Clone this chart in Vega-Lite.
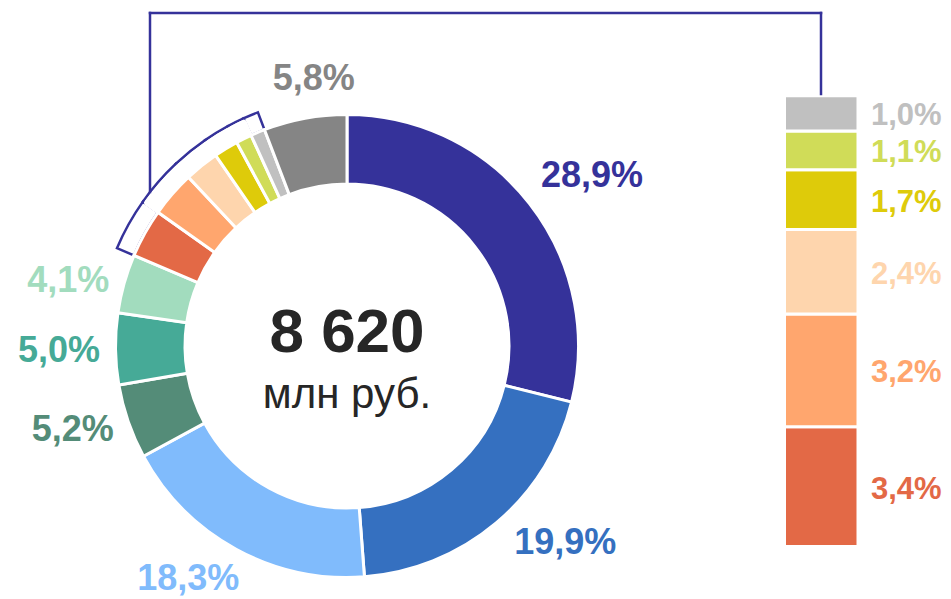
{
  "$schema": "https://vega.github.io/schema/vega-lite/v6.json",
  "width": 951,
  "height": 599,
  "autosize": "none",
  "padding": 0,
  "background": "white",
  "config": {
    "view": {"stroke": null},
    "locale": {"number": {"decimal": ",", "thousands": " ", "grouping": [3], "currency": ["", ""]}},
    "text": {"font": "Liberation Sans"}
  },
  "datasets": {
    "shares": [
      {"segment": "S01", "share": 0.289, "rank": 1, "group": "main"},
      {"segment": "S02", "share": 0.199, "rank": 2, "group": "main"},
      {"segment": "S03", "share": 0.183, "rank": 3, "group": "main"},
      {"segment": "S04", "share": 0.052, "rank": 4, "group": "main"},
      {"segment": "S05", "share": 0.050, "rank": 5, "group": "main"},
      {"segment": "S06", "share": 0.041, "rank": 6, "group": "main"},
      {"segment": "S07", "share": 0.034, "rank": 7, "group": "detail"},
      {"segment": "S08", "share": 0.032, "rank": 8, "group": "detail"},
      {"segment": "S09", "share": 0.024, "rank": 9, "group": "detail"},
      {"segment": "S10", "share": 0.017, "rank": 10, "group": "detail"},
      {"segment": "S11", "share": 0.011, "rank": 11, "group": "detail"},
      {"segment": "S12", "share": 0.010, "rank": 12, "group": "detail"},
      {"segment": "S13", "share": 0.058, "rank": 13, "group": "main"}
    ],
    "total": [{"total": 8620, "unit": "млн руб."}]
  },
  "data": {"name": "shares"},
  "encoding": {
    "theta": {"field": "share", "type": "quantitative", "stack": true},
    "order": {"field": "rank", "type": "quantitative", "sort": "ascending"}
  },
  "layer": [
    {
      "mark": {"type": "arc", "innerRadius": 231.5, "outerRadius": 250, "fill": "transparent", "stroke": "#35329A", "strokeWidth": 2.5, "strokeJoin": "miter", "x": 347, "y": 346},
      "encoding": {
        "opacity": {"condition": {"test": "datum.group === 'detail'", "value": 1}, "value": 0}
      }
    },
    {
      "mark": {"type": "arc", "innerRadius": 233, "outerRadius": 247, "fill": "white", "stroke": "white", "strokeWidth": 3.5, "strokeJoin": "bevel", "x": 347, "y": 346},
      "encoding": {
        "opacity": {"condition": {"test": "datum.group === 'detail' && datum.rank > 7 && datum.rank < 12", "value": 1}, "value": 0}
      }
    },
    {
      "mark": {"type": "arc", "innerRadius": 162, "outerRadius": 231.5, "stroke": "white", "strokeWidth": 3, "x": 347, "y": 346},
      "encoding": {
        "color": {
          "field": "segment", "type": "nominal", "legend": null,
          "scale": {
            "domain": ["S01", "S02", "S03", "S04", "S05", "S06", "S07", "S08", "S09", "S10", "S11", "S12", "S13"],
            "range": ["#35329A", "#3570C0", "#80BBFC", "#548C78", "#46AA97", "#A2DCBE", "#E36946", "#FFA66E", "#FED5AD", "#DECB0A", "#D0DC58", "#C0C0C0", "#858585"]
          }
        }
      }
    },
    {
      "mark": {"type": "text", "radius": 250, "x": 347, "y": 346, "fontSize": 36, "fontWeight": "bold", "align": "center", "baseline": "bottom", "dx": 12, "dy": -2},
      "encoding": {
        "color": {"field": "segment", "type": "nominal", "legend": null},
        "text": {"field": "share", "type": "quantitative", "format": ".1%"},
        "opacity": {"condition": {"test": "datum.group === 'main' && ((datum.share_start + datum.share_end) * 180 >= 345 || (datum.share_start + datum.share_end) * 180 < 15)", "value": 1}, "value": 0}
      }
    },
    {
      "mark": {"type": "text", "radius": 250, "x": 347, "y": 346, "fontSize": 36, "fontWeight": "bold", "align": "left", "baseline": "bottom", "dx": -3, "dy": 3},
      "encoding": {
        "color": {"field": "segment", "type": "nominal", "legend": null},
        "text": {"field": "share", "type": "quantitative", "format": ".1%"},
        "opacity": {"condition": {"test": "datum.group === 'main' && (datum.share_start + datum.share_end) * 180 >= 15 && (datum.share_start + datum.share_end) * 180 < 60", "value": 1}, "value": 0}
      }
    },
    {
      "mark": {"type": "text", "radius": 250, "x": 347, "y": 346, "fontSize": 36, "fontWeight": "bold", "align": "left", "baseline": "top", "dx": 6, "dy": -11},
      "encoding": {
        "color": {"field": "segment", "type": "nominal", "legend": null},
        "text": {"field": "share", "type": "quantitative", "format": ".1%"},
        "opacity": {"condition": {"test": "datum.group === 'main' && (datum.share_start + datum.share_end) * 180 >= 120 && (datum.share_start + datum.share_end) * 180 < 180", "value": 1}, "value": 0}
      }
    },
    {
      "mark": {"type": "text", "radius": 250, "x": 347, "y": 346, "fontSize": 36, "fontWeight": "bold", "align": "right", "baseline": "top", "dx": 12, "dy": -3},
      "encoding": {
        "color": {"field": "segment", "type": "nominal", "legend": null},
        "text": {"field": "share", "type": "quantitative", "format": ".1%"},
        "opacity": {"condition": {"test": "datum.group === 'main' && (datum.share_start + datum.share_end) * 180 >= 180 && (datum.share_start + datum.share_end) * 180 < 240", "value": 1}, "value": 0}
      }
    },
    {
      "mark": {"type": "text", "radius": 250, "x": 347, "y": 346, "fontSize": 36, "fontWeight": "bold", "align": "right", "baseline": "middle", "dx": 3, "dy": 2},
      "encoding": {
        "color": {"field": "segment", "type": "nominal", "legend": null},
        "text": {"field": "share", "type": "quantitative", "format": ".1%"},
        "opacity": {"condition": {"test": "datum.group === 'main' && (datum.share_start + datum.share_end) * 180 >= 240 && (datum.share_start + datum.share_end) * 180 < 300", "value": 1}, "value": 0}
      }
    },
    {
      "transform": [{"filter": "datum.group === 'detail'"}],
      "mark": {"type": "bar", "orient": "vertical", "stroke": "white", "strokeWidth": 3},
      "encoding": {
        "theta": null,
        "x": {"value": 784.5},
        "x2": {"value": 858},
        "y": {"field": "share", "type": "quantitative", "stack": "zero", "axis": null, "scale": {"range": [546.5, 95.8], "nice": false, "zero": true}},
        "color": {"field": "segment", "type": "nominal", "legend": null}
      }
    },
    {
      "transform": [{"filter": "datum.group === 'detail'"}],
      "mark": {"type": "text", "align": "left", "baseline": "middle", "fontSize": 31, "fontWeight": "bold", "x": 871, "dy": 3},
      "encoding": {
        "theta": null,
        "y": {"field": "share", "type": "quantitative", "stack": "zero", "bandPosition": 0.5, "axis": null},
        "color": {"field": "segment", "type": "nominal", "legend": null},
        "text": {"field": "share", "type": "quantitative", "format": ".1%"}
      }
    },
    {
      "data": {"name": "total"},
      "mark": {"type": "rule", "color": "#35329A", "strokeWidth": 2.5, "strokeCap": "square"},
      "encoding": {"theta": null, "order": null, "x": {"value": 150}, "y": {"value": 13}, "y2": {"value": 192}}
    },
    {
      "data": {"name": "total"},
      "mark": {"type": "rule", "color": "#35329A", "strokeWidth": 2.5, "strokeCap": "square"},
      "encoding": {"theta": null, "order": null, "x": {"value": 150}, "x2": {"value": 821}, "y": {"value": 13}}
    },
    {
      "data": {"name": "total"},
      "mark": {"type": "rule", "color": "#35329A", "strokeWidth": 2.5, "strokeCap": "square"},
      "encoding": {"theta": null, "order": null, "x": {"value": 821}, "y": {"value": 13}, "y2": {"value": 94}}
    },
    {
      "data": {"name": "total"},
      "mark": {"type": "text", "x": 347, "y": 352, "align": "center", "baseline": "alphabetic", "fontSize": 62, "fontWeight": "bold", "color": "#262626"},
      "encoding": {"theta": null, "order": null, "text": {"field": "total", "type": "quantitative", "format": ",.0f"}}
    },
    {
      "data": {"name": "total"},
      "mark": {"type": "text", "x": 347, "y": 408, "align": "center", "baseline": "alphabetic", "fontSize": 42, "color": "#262626"},
      "encoding": {"theta": null, "order": null, "text": {"field": "unit", "type": "nominal"}}
    }
  ]
}
